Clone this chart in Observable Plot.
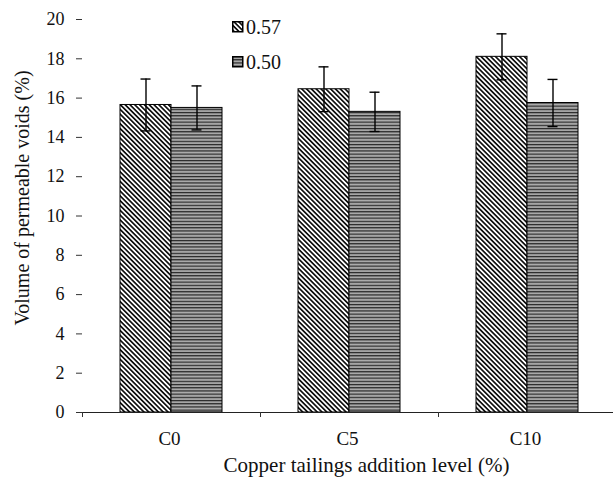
<!DOCTYPE html>
<html><head><meta charset="utf-8">
<script src="https://cdn.jsdelivr.net/npm/d3@7"></script>
<script src="https://cdn.jsdelivr.net/npm/@observablehq/plot@0.6"></script>
<style>
body{margin:0;background:#fff;}
#wrap{position:relative;width:613px;height:480px;font-family:"Liberation Serif","Times New Roman",serif;color:#111;}
#wrap svg.plot{display:block;}
.lg{position:absolute;left:232px;height:14px;display:flex;align-items:center;font-size:20px;line-height:14px;}
.lg svg{margin-right:2px;}
</style></head><body>
<svg width="0" height="0" style="position:absolute">
<defs>
<pattern id="diag" patternUnits="userSpaceOnUse" width="3.4" height="3.4" patternTransform="rotate(-45)">
<rect width="3.4" height="3.4" fill="#fff"/>
<rect x="0" y="0" width="1.7" height="3.4" fill="#111"/>
</pattern>
<pattern id="horiz" patternUnits="userSpaceOnUse" width="4" height="3.2">
<rect width="4" height="3.2" fill="#888"/>
<rect y="0" width="4" height="1" fill="#262626"/>
<rect y="2" width="4" height="0.7" fill="#d0d0d0"/>
</pattern>
</defs></svg>
<div id="wrap"></div>
<script>
const categories = ["C0", "C5", "C10"];
const series = ["0.57", "0.50"];
const values057 = [15.65, 16.45, 18.1];
const values050 = [15.5, 15.3, 15.75];
const errors057 = [1.32, 1.14, 1.17];
const errors050 = [1.12, 1.0, 1.2];
const yTicks = [0, 2, 4, 6, 8, 10, 12, 14, 16, 18, 20];
const xTitle = "Copper tailings addition level (%)";
const yTitle = "Volume of permeable voids (%)";
const fills = {"0.57": "url(#diag)", "0.50": "url(#horiz)"};

const rows = [];
categories.forEach((c, i) => {
  rows.push({category: c, series: "0.57", value: values057[i], err: errors057[i]});
  rows.push({category: c, series: "0.50", value: values050[i], err: errors050[i]});
});

const W = 613, H = 480, ML = 82, MR = -3;
const step = (W - ML - MR) / categories.length;

const chart = Plot.plot({
  width: W, height: H,
  marginTop: 19, marginBottom: 68, marginLeft: ML, marginRight: MR,
  style: {fontFamily: "'Liberation Serif', 'Times New Roman', serif", fontSize: "17px", color: "#111", background: "transparent", overflow: "visible"},
  fx: {domain: categories, padding: 0, axis: null},
  x: {domain: series, paddingInner: 0, paddingOuter: 0.745, axis: null},
  y: {domain: [0, 20]},
  marks: [
    ...series.map(s => Plot.barY(rows.filter(d => d.series === s), {
      fx: "category", x: "series", y: "value", fill: fills[s], stroke: "#000", strokeWidth: 1
    })),
    Plot.ruleX(rows, {fx: "category", x: "series", y1: d => d.value - d.err, y2: d => d.value + d.err, stroke: "#000", strokeWidth: 1.4}),
    Plot.tickY(rows, {fx: "category", x: "series", y: d => d.value - d.err, insetLeft: 20.5, insetRight: 20.5, stroke: "#000", strokeWidth: 1.4}),
    Plot.tickY(rows, {fx: "category", x: "series", y: d => d.value + d.err, insetLeft: 20.5, insetRight: 20.5, stroke: "#000", strokeWidth: 1.4}),
    Plot.ruleY([0], {stroke: "#222", strokeWidth: 1}),
    Plot.axisY({ticks: yTicks, tickSize: 6, tickPadding: 12, line: true, label: null, fontSize: 18, stroke: "#333"}),
    Plot.axisFx({anchor: "bottom", tickSize: 5, dx: -step / 2, fill: "none", label: null, stroke: "#333"}),
    Plot.text(categories, {fx: d => d, frameAnchor: "bottom", textAnchor: "middle", dy: 32, dx: -2, fontSize: 19, text: d => d}),
    Plot.text([yTitle], {fx: ["C0"], frameAnchor: "left", textAnchor: "middle", rotate: -90, dx: -60, dy: -18, fontSize: 20, text: d => d}),
    Plot.text([xTitle], {fx: ["C5"], frameAnchor: "bottom", textAnchor: "middle", dy: 59, dx: 17, fontSize: 21, text: d => d})
  ]
});
const wrap = document.getElementById("wrap");
wrap.appendChild(chart);

series.forEach((s, i) => {
  const item = d3.select(wrap).append("div").attr("class", "lg").style("top", (20 + i * 35) + "px");
  const sw = item.append("svg").attr("width", 12).attr("height", 12);
  sw.append("rect").attr("x", 0.75).attr("y", 0.75).attr("width", 10).attr("height", 10)
    .attr("fill", fills[s]).attr("stroke", "#000").attr("stroke-width", 1.5);
  item.append("span").text(s);
});
</script>
</body></html>
